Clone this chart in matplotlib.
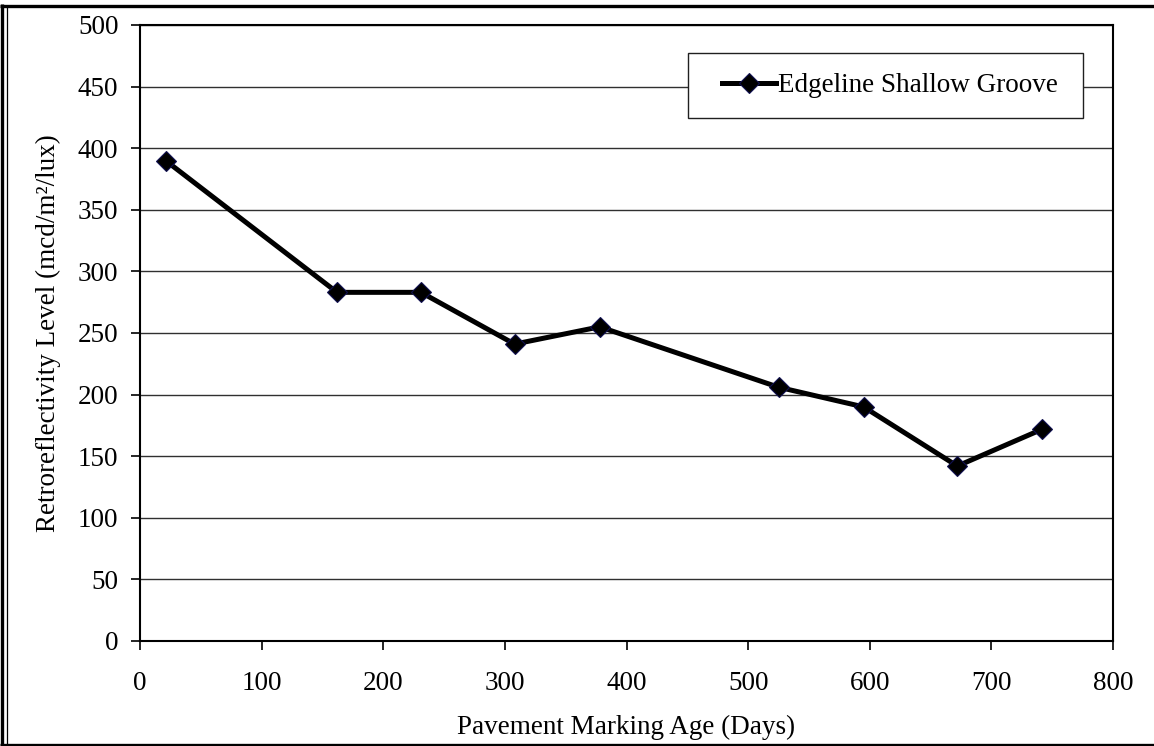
import matplotlib
matplotlib.use("Agg")
import matplotlib.pyplot as plt
from matplotlib.lines import Line2D
from matplotlib.patches import Rectangle

# Retroreflectivity readings over the marking's service life
age_days = [21, 162, 231, 308, 378, 525, 595, 672, 742]
retro_level = [390, 283, 283, 241, 255, 206, 190, 142, 172]
series_name = "Edgeline Shallow Groove"
x_ticks = [0, 100, 200, 300, 400, 500, 600, 700, 800]
y_ticks = [0, 50, 100, 150, 200, 250, 300, 350, 400, 450, 500]

plt.rcParams["font.family"] = ["Liberation Serif", "DejaVu Serif"]
FS = 19.5

W, H = 1154, 746
AX_L, AX_R, AX_T, AX_B = 140, 1113, 25, 641
fig = plt.figure(figsize=(W / 100, H / 100), dpi=100)
ax = fig.add_axes([AX_L / W, 1 - AX_B / H, (AX_R - AX_L) / W, (AX_B - AX_T) / H])

ax.plot(age_days, retro_level, color="black", lw=3.6, marker="D",
        markersize=10.5, markerfacecolor="black", markeredgecolor="#101050",
        markeredgewidth=0.8, label=series_name, zorder=3)

ax.set_xlim(0, 800)
ax.set_ylim(0, 500)
ax.set_xticks(x_ticks)
ax.set_yticks(y_ticks)
ax.tick_params(axis="both", direction="out", length=6.5, width=1.2,
               labelsize=FS, colors="black")
ax.tick_params(axis="y", pad=9)
ax.tick_params(axis="x", pad=15)
ax.yaxis.grid(True, color="#303030", lw=1.0)
ax.set_axisbelow(True)
for s in ax.spines.values():
    s.set_linewidth(1.5)
    s.set_color("black")

ax.set_xlabel("Pavement Marking Age (Days)", fontsize=FS, labelpad=14)
ax.set_ylabel("Retroreflectivity Level (mcd/m\u00b2/lux)", fontsize=FS,
              labelpad=12)


def to_axes(px, py):
    return (px - AX_L) / (AX_R - AX_L), (AX_B - py) / (AX_B - AX_T)


# Legend box drawn as a plain white rectangle with the entry centred in it
bx0, by0 = to_axes(688, 118)
bx1, by1 = to_axes(1083, 53)
ax.add_patch(Rectangle((bx0, by0), bx1 - bx0, by1 - by0, transform=ax.transAxes,
                       facecolor="white", edgecolor="#202020", lw=1.0,
                       zorder=4))
lx, ly = to_axes(890, 86)
leg = ax.legend(loc="center", bbox_to_anchor=(lx, ly), fontsize=FS,
                frameon=False, borderpad=0, handlelength=2.0,
                handletextpad=0.1, borderaxespad=0)
leg.set_zorder(5)


# Outer frame around the figure
def fig_line(xs, ys, lw):
    fig.add_artist(Line2D([x / W for x in xs], [1 - y / H for y in ys],
                          color="black", lw=lw, transform=fig.transFigure,
                          solid_capstyle="butt"))


fig_line([0, W], [5.5, 5.5], 2.4)
fig_line([1.5, 1.5], [4, H], 2.4)
fig_line([6.5, 6.5], [7, H], 0.9)
fig_line([0, W], [744.5, 744.5], 2.4)

fig.savefig("out.png", dpi=100, facecolor="white")
